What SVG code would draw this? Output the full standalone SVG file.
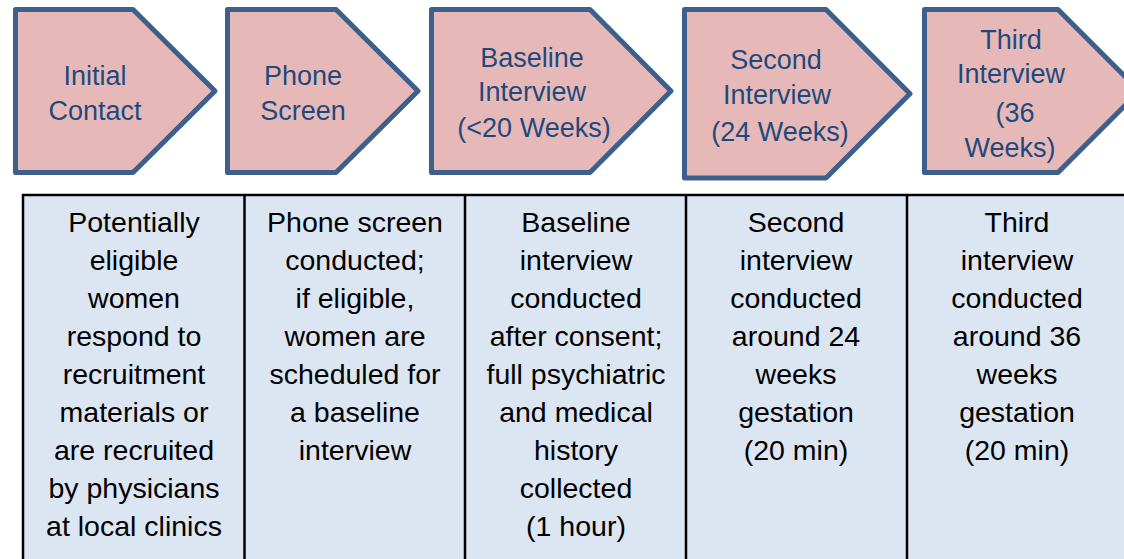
<svg xmlns="http://www.w3.org/2000/svg" width="1124" height="559" viewBox="0 0 1124 559">
  <style>
    .step { fill: #E6B9B8; stroke: #3D5F8C; stroke-width: 5; stroke-linejoin: round; }
    .step-label { font-family: "Liberation Sans", Arial, sans-serif; font-size: 27px; fill: #1F497D; text-anchor: middle; }
    .cell { fill: #DCE6F2; stroke: #000; stroke-width: 2.5; }
    .rule { stroke: #000; stroke-width: 2.5; }
    .cell-text { font-family: "Liberation Sans", Arial, sans-serif; font-size: 28.5px; fill: #000; text-anchor: middle; }
  </style>

  <rect width="1124" height="559" fill="#ffffff"/>

  <!-- timeline chevrons -->
  <g id="step-initial-contact">
    <path class="step" d="M15.5,9.5 H133 L215,91 L133,172.5 H15.5 Z"/>
    <text class="step-label"><tspan x="95" y="85">Initial</tspan><tspan x="95" y="120">Contact</tspan></text>
  </g>
  <g id="step-phone-screen">
    <path class="step" d="M227.5,9.5 H336 L418,91 L336,172.5 H227.5 Z"/>
    <text class="step-label"><tspan x="303" y="85">Phone</tspan><tspan x="303" y="120">Screen</tspan></text>
  </g>
  <g id="step-baseline">
    <path class="step" d="M431.5,9.5 H590 L671,91 L590,172.5 H431.5 Z"/>
    <text class="step-label"><tspan x="532" y="67">Baseline</tspan><tspan x="532" y="101">Interview</tspan><tspan x="534" y="137">(&lt;20 Weeks)</tspan></text>
  </g>
  <g id="step-second">
    <path class="step" d="M684.5,9.5 H826 L910,93.8 L826,178 H684.5 Z"/>
    <text class="step-label"><tspan x="776" y="69">Second</tspan><tspan x="777" y="104">Interview</tspan><tspan x="780" y="141">(24 Weeks)</tspan></text>
  </g>
  <g id="step-third">
    <path class="step" d="M924.5,9.5 H1058 L1139.5,91 L1058,172.5 H924.5 Z"/>
    <text class="step-label"><tspan x="1011" y="49">Third</tspan><tspan x="1011" y="83">Interview</tspan><tspan x="1015" y="122">(36</tspan><tspan x="1010" y="157">Weeks)</tspan></text>
  </g>

  <!-- description table -->
  <g id="table">
    <rect class="cell" x="23" y="195" width="1106" height="380"/>
    <line class="rule" x1="244.5" y1="195" x2="244.5" y2="560"/>
    <line class="rule" x1="465" y1="195" x2="465" y2="560"/>
    <line class="rule" x1="686" y1="195" x2="686" y2="560"/>
    <line class="rule" x1="907" y1="195" x2="907" y2="560"/>
  </g>

  <g id="cell-initial-contact">
    <text class="cell-text"><tspan x="134" y="232">Potentially</tspan><tspan x="134" y="270">eligible</tspan><tspan x="134" y="308">women</tspan><tspan x="134" y="346">respond to</tspan><tspan x="134" y="384">recruitment</tspan><tspan x="134" y="422">materials or</tspan><tspan x="134" y="460">are recruited</tspan><tspan x="134" y="498">by physicians</tspan><tspan x="134" y="536">at local clinics</tspan></text>
  </g>
  <g id="cell-phone-screen">
    <text class="cell-text"><tspan x="355" y="232">Phone screen</tspan><tspan x="355" y="270">conducted;</tspan><tspan x="355" y="308">if eligible,</tspan><tspan x="355" y="346">women are</tspan><tspan x="355" y="384">scheduled for</tspan><tspan x="355" y="422">a baseline</tspan><tspan x="355" y="460">interview</tspan></text>
  </g>
  <g id="cell-baseline">
    <text class="cell-text"><tspan x="576" y="232">Baseline</tspan><tspan x="576" y="270">interview</tspan><tspan x="576" y="308">conducted</tspan><tspan x="576" y="346">after consent;</tspan><tspan x="576" y="384">full psychiatric</tspan><tspan x="576" y="422">and medical</tspan><tspan x="576" y="460">history</tspan><tspan x="576" y="498">collected</tspan><tspan x="576" y="536">(1 hour)</tspan></text>
  </g>
  <g id="cell-second">
    <text class="cell-text"><tspan x="796" y="232">Second</tspan><tspan x="796" y="270">interview</tspan><tspan x="796" y="308">conducted</tspan><tspan x="796" y="346">around 24</tspan><tspan x="796" y="384">weeks</tspan><tspan x="796" y="422">gestation</tspan><tspan x="796" y="460">(20 min)</tspan></text>
  </g>
  <g id="cell-third">
    <text class="cell-text"><tspan x="1017" y="232">Third</tspan><tspan x="1017" y="270">interview</tspan><tspan x="1017" y="308">conducted</tspan><tspan x="1017" y="346">around 36</tspan><tspan x="1017" y="384">weeks</tspan><tspan x="1017" y="422">gestation</tspan><tspan x="1017" y="460">(20 min)</tspan></text>
  </g>

  <!-- no connectors: the chevrons abut in sequence -->
  <g id="connectors"/>
</svg>
